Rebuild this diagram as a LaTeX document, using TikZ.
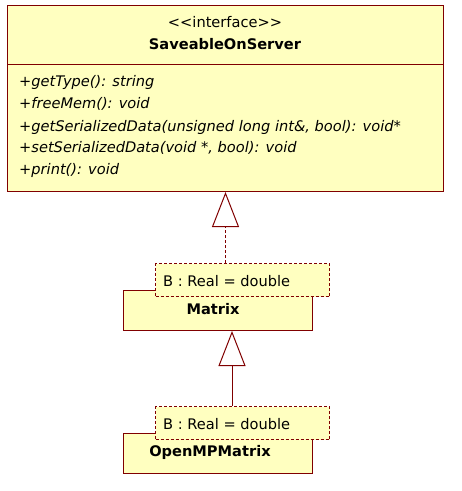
\documentclass[tikz,border=0pt]{standalone}
\usepackage{fontspec}
\setmainfont{DejaVu Sans}
\usetikzlibrary{arrows.meta}
\definecolor{umlfill}{RGB}{255,255,192}
\definecolor{umlline}{RGB}{128,0,0}
\tikzset{
  umlbox/.style={draw=umlline, fill=umlfill, line width=1pt, rectangle, inner sep=0pt, anchor=north west},
  tplbox/.style={draw=umlline, fill=umlfill, line width=1pt, dash pattern=on 3pt off 2pt, rectangle, inner sep=0pt, anchor=north west},
  txt/.style={inner sep=0pt, font=\fontsize{14.6}{17}\selectfont},
  btxt/.style={inner sep=0pt, font=\fontsize{14.6}{17}\selectfont\bfseries},
  itxt/.style={inner sep=0pt, anchor=west, font=\fontsize{14.6}{17}\selectfont\itshape},
  gen/.style={draw=umlline, line width=1pt, -{Triangle[open, length=35pt, width=27pt]}},
}
\begin{document}
\begin{tikzpicture}[x=1pt, y=-1pt]
\useasboundingbox (0,0) rectangle (462,491);
% interface
\node[umlbox, minimum width=436pt, minimum height=186pt] (iface) at (7,5) {};
\draw[umlline, line width=1pt] (7,64) -- (443,64);
\node[txt] (stereo) at (225,22) {{<}{<}interface{>}{>}};
\node[btxt] (iname) at (225,44) {SaveableOnServer};
\node[itxt] (m1) at (19,82) {+getType(): string};
\node[itxt] (m2) at (19,104) {+freeMem(): void};
\node[itxt] (m3) at (19,127) {+getSerializedData(unsigned long int\&, bool): void*};
\node[itxt] (m4) at (19,148) {+setSerializedData(void *, bool): void};
\node[itxt] (m5) at (19,170) {+print(): void};
% Matrix
\node[umlbox, minimum width=189pt, minimum height=40pt] (matrix) at (123,290) {};
\node[btxt] (mname) at (213,309) {Matrix};
\node[tplbox, minimum width=174pt, minimum height=33pt] (mtpl) at (155,263) {};
\node[txt, anchor=west] (mtplt) at (163,281) {B : Real = double};
% OpenMPMatrix
\node[umlbox, minimum width=189pt, minimum height=40pt] (omp) at (123,433) {};
\node[btxt] (oname) at (210,452) {OpenMPMatrix};
\node[tplbox, minimum width=174pt, minimum height=33pt] (otpl) at (155,406) {};
\node[txt, anchor=west] (otplt) at (163,424) {B : Real = double};
% connectors
\draw[gen, dash pattern=on 3pt off 2pt] (mtpl.north -| iface.south) -- (iface.south);
\coordinate (c2) at (232,406);
\draw[gen] (c2) -- (c2 |- matrix.south);
\end{tikzpicture}
\end{document}
